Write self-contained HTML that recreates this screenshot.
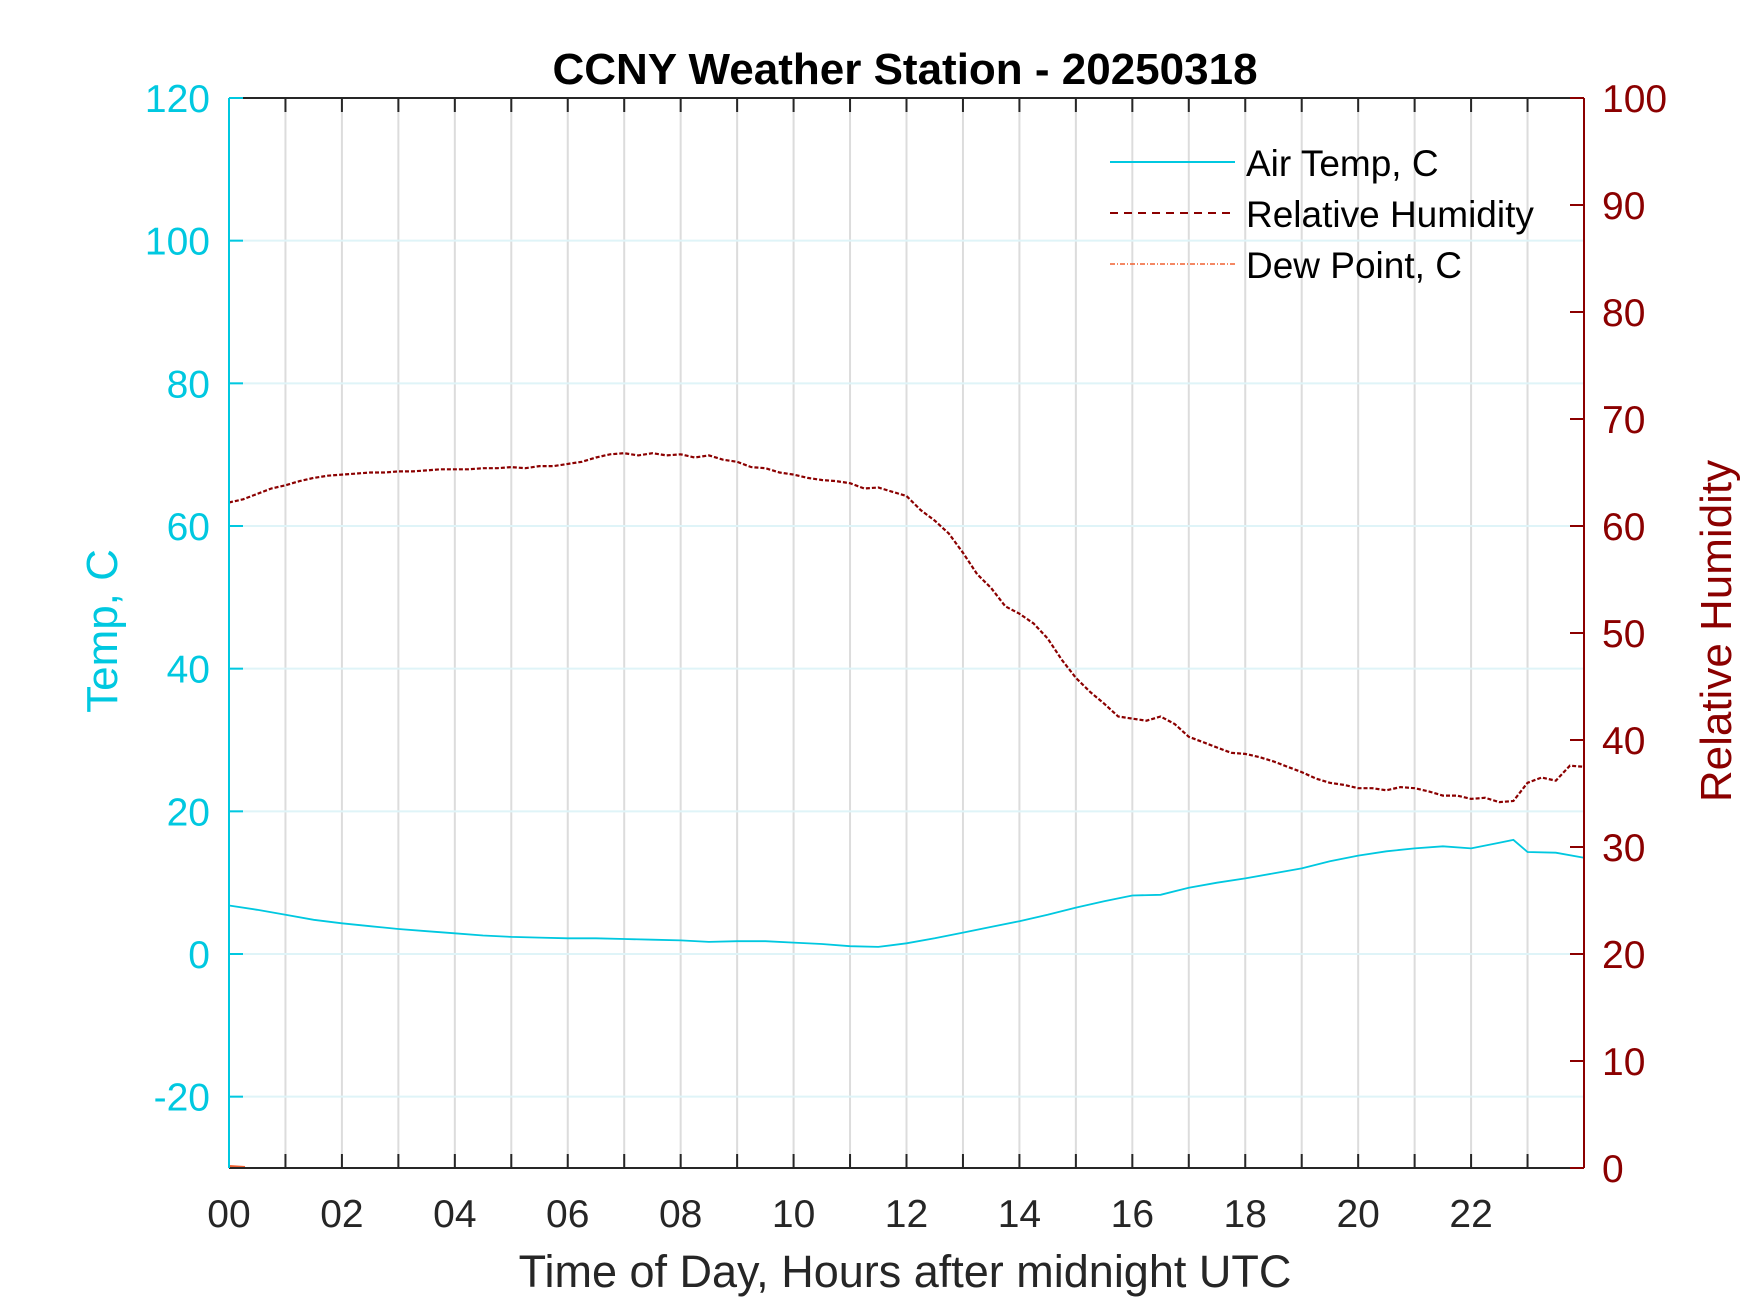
<!DOCTYPE html>
<html><head><meta charset="utf-8"><style>
html,body{margin:0;padding:0;background:#fff;}
svg{display:block;font-family:"Liberation Sans",Arial,sans-serif;}
</style></head><body>
<svg id="chart" width="1750" height="1313" viewBox="0 0 1750 1313" xmlns="http://www.w3.org/2000/svg">
<rect width="1750" height="1313" fill="#fff"/>
<text x="905" y="84" text-anchor="middle" font-size="44" font-weight="bold" fill="#000">CCNY Weather Station - 20250318</text>
<g id="grid"></g>
<g id="series"></g>
<g id="axes"></g>
<g>
<line x1="1110" y1="162" x2="1235" y2="162" stroke="#00c8e0" stroke-width="2"/>
<text x="1246" y="176" font-size="37">Air Temp, C</text>
<line x1="1110" y1="213" x2="1235" y2="213" stroke="#8b0000" stroke-width="2" stroke-dasharray="8,6"/>
<text x="1246" y="227" font-size="37">Relative Humidity</text>
<line x1="1110" y1="264" x2="1235" y2="264" stroke="#f06030" stroke-width="1.5" stroke-dasharray="5,2,1,2"/>
<text x="1246" y="278" font-size="37">Dew Point, C</text>
</g>
<text transform="translate(117,631) rotate(-90)" text-anchor="middle" font-size="44" fill="#00c8e0">Temp, C</text>
<text transform="translate(1731,631) rotate(-90)" text-anchor="middle" font-size="44" fill="#8b0000">Relative Humidity</text>
<text x="905" y="1287" text-anchor="middle" font-size="45" fill="#262626">Time of Day, Hours after midnight UTC</text>
</svg>
<script>
const tempHours=[0,0.5,1,1.5,2,2.5,3,3.5,4,4.5,5,5.5,6,6.5,7,7.5,8,8.5,9,9.5,10,10.5,11,11.5,12,12.5,13,13.5,14,14.5,15,15.5,16,16.5,17,17.5,18,18.5,19,19.5,20,20.5,21,21.5,22,22.5,22.75,23,23.5,24];
const tempValues=[6.8,6.2,5.5,4.8,4.3,3.9,3.5,3.2,2.9,2.6,2.4,2.3,2.2,2.2,2.1,2.0,1.9,1.7,1.8,1.8,1.6,1.4,1.1,1.0,1.5,2.2,3.0,3.8,4.6,5.5,6.5,7.4,8.2,8.3,9.3,10.0,10.6,11.3,12.0,13.0,13.8,14.4,14.8,15.1,14.8,15.6,16.0,14.3,14.2,13.5];
const rhValues=[62.2,62.5,63.0,63.5,63.8,64.2,64.5,64.7,64.8,64.9,65.0,65.0,65.1,65.1,65.2,65.3,65.3,65.3,65.4,65.4,65.5,65.4,65.6,65.6,65.8,66.0,66.4,66.7,66.8,66.6,66.8,66.6,66.7,66.4,66.6,66.2,66.0,65.5,65.4,65.0,64.8,64.5,64.3,64.2,64.0,63.5,63.6,63.2,62.8,61.5,60.5,59.3,57.5,55.5,54.2,52.5,51.8,50.9,49.5,47.5,45.8,44.5,43.4,42.2,42.0,41.8,42.2,41.5,40.3,39.8,39.3,38.8,38.7,38.4,38.0,37.5,37.0,36.4,36.0,35.8,35.5,35.5,35.3,35.6,35.5,35.2,34.8,34.8,34.5,34.6,34.2,34.3,36.0,36.5,36.2,37.6,37.5];
const rhStep=0.25;
const xTickLabels=["00","02","04","06","08","10","12","14","16","18","20","22"];
const leftTicks=[-20,0,20,40,60,80,100,120];
const rightTicks=[0,10,20,30,40,50,60,70,80,90,100];

const L=229,R=1584,T=98,B=1168;
const xS=h=>L+(h/24)*(R-L);
const yL=v=>B-(v+30)/150*(B-T);
const yR=v=>B-v/100*(B-T);
const NS="http://www.w3.org/2000/svg";
function mk(tag,attrs,parent){const e=document.createElementNS(NS,tag);for(const k in attrs)e.setAttribute(k,attrs[k]);parent.appendChild(e);return e;}
const grid=document.getElementById('grid'),series=document.getElementById('series'),axes=document.getElementById('axes');

for(let h=1;h<24;h++){const l=mk('line',{x1:xS(h),x2:xS(h),y1:T,y2:B,stroke:'#dcdcdc','stroke-width':2},grid);

}
leftTicks.forEach(v=>{const l=mk('line',{x1:L,x2:R,y1:yL(v),y2:yL(v),stroke:'#dff4f8','stroke-width':2},grid);

});

let d='';tempHours.forEach((h,i)=>{d+=(i?'L':'M')+xS(h).toFixed(1)+','+yL(tempValues[i]).toFixed(1);});
const tp=mk('path',{d:d,fill:'none',stroke:'#00c8e0','stroke-width':1.8},series);


d='';rhValues.forEach((v,i)=>{d+=(i?'L':'M')+xS(i*rhStep).toFixed(1)+','+yR(v).toFixed(1);});
const rp=mk('path',{d:d,fill:'none',stroke:'#8b0000','stroke-width':2.2,'stroke-dasharray':'4,2'},series);


const dp=mk('line',{x1:L,x2:L+16,y1:B-2,y2:B-1,stroke:'#f06030','stroke-width':2},series);



mk('line',{x1:L,x2:R,y1:T,y2:T,stroke:'#262626','stroke-width':2},axes);
mk('line',{x1:L,x2:R,y1:B,y2:B,stroke:'#262626','stroke-width':2},axes);
mk('line',{x1:L,x2:L,y1:T,y2:B,stroke:'#00c8e0','stroke-width':2},axes);
mk('line',{x1:R,x2:R,y1:T,y2:B,stroke:'#8b0000','stroke-width':2},axes);
for(let h=1;h<24;h++){mk('line',{x1:xS(h),x2:xS(h),y1:B,y2:B-14,stroke:'#262626','stroke-width':2},axes);mk('line',{x1:xS(h),x2:xS(h),y1:T,y2:T+14,stroke:'#262626','stroke-width':2},axes);}
xTickLabels.forEach((s,i)=>{const t=mk('text',{x:xS(i*2),y:1227,'text-anchor':'middle','font-size':39,fill:'#262626'},axes);t.textContent=s;

});
leftTicks.forEach(v=>{mk('line',{x1:L,x2:L+14,y1:yL(v),y2:yL(v),stroke:'#00c8e0','stroke-width':2},axes);
const t=mk('text',{x:210,y:yL(v)+14,'text-anchor':'end','font-size':39,fill:'#00c8e0'},axes);t.textContent=v;

});
rightTicks.forEach(v=>{mk('line',{x1:R,x2:R-14,y1:yR(v),y2:yR(v),stroke:'#8b0000','stroke-width':2},axes);
const t=mk('text',{x:1602,y:yR(v)+14,'text-anchor':'start','font-size':39,fill:'#8b0000'},axes);t.textContent=v;

});
</script>
</body></html>
